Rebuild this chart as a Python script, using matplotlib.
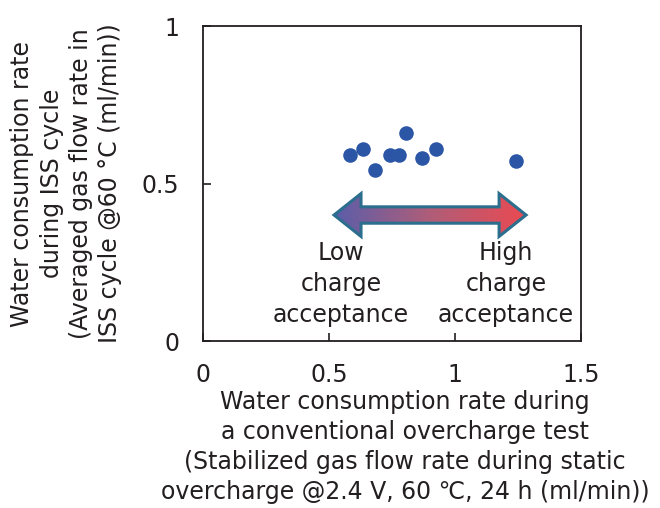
import numpy as np
import matplotlib
matplotlib.use('Agg')
import matplotlib.pyplot as plt
from matplotlib.patches import Polygon
from matplotlib.colors import LinearSegmentedColormap

plt.rcParams['font.family'] = ['DejaVu Sans', 'Noto Sans CJK JP']

# data
overcharge_rate = [0.583, 0.634, 0.683, 0.742, 0.778, 0.805, 0.869, 0.925, 1.242]
iss_rate = [0.590, 0.610, 0.544, 0.590, 0.590, 0.660, 0.580, 0.608, 0.571]
x_ticks = [0, 0.5, 1, 1.5]
x_tick_labels = ['0', '0.5', '1', '1.5']
y_ticks = [0, 0.5, 1]
y_tick_labels = ['0', '0.5', '1']

FS = 17
TXT = '#231f20'

fig = plt.figure(figsize=(6.6, 5.08), dpi=100)
ax = fig.add_axes([0.3076, 0.3287, 0.5727, 0.6201])

ax.scatter(overcharge_rate, iss_rate, s=110, color='#2b55a5', zorder=3, linewidths=0)

ax.set_xticks(x_ticks)
ax.set_xticklabels(x_tick_labels)
ax.set_yticks(y_ticks)
ax.set_yticklabels(y_tick_labels)
ax.tick_params(direction='in', length=6, width=1.2, labelsize=FS, color=TXT,
               labelcolor=TXT)
ax.tick_params(axis='x', pad=16)
ax.tick_params(axis='y', pad=17)
for sp in ax.spines.values():
    sp.set_linewidth(1.3)
    sp.set_color(TXT)

ax.set_xlabel('Water consumption rate during\na conventional overcharge test\n'
              '(Stabilized gas flow rate during static\novercharge @2.4 V, 60 ℃, 24 h (ml/min))',
              fontsize=FS, color=TXT, linespacing=1.32)
ax.xaxis.set_label_coords(0.535, -0.155)
ax.set_ylabel('Water consumption rate\nduring ISS cycle\n(Averaged gas flow rate in\n'
              'ISS cycle @60 °C (ml/min))',
              fontsize=FS, color=TXT, linespacing=1.28, labelpad=14)

# double arrow with gradient fill
x0, x1, yc = 0.52, 1.282, 0.40
hh, sh, hl = 0.068, 0.026, 0.107
pts = [(x0, yc), (x0 + hl, yc + hh), (x0 + hl, yc + sh), (x1 - hl, yc + sh),
       (x1 - hl, yc + hh), (x1, yc), (x1 - hl, yc - hh), (x1 - hl, yc - sh),
       (x0 + hl, yc - sh), (x0 + hl, yc - hh)]
arrow = Polygon(pts, closed=True, facecolor='none', edgecolor='#2b6e8e', linewidth=2.2, zorder=4)
ax.add_patch(arrow)
cmap = LinearSegmentedColormap.from_list('lh', ['#5a5eaa', '#b05d78', '#ea4a52'])
grad = np.linspace(0, 1, 256).reshape(1, -1)
im = ax.imshow(grad, cmap=cmap, extent=[x0, x1, yc - hh, yc + hh], aspect='auto', zorder=3)
im.set_clip_path(arrow)
ax.set_xlim(0, 1.5)
ax.set_ylim(0, 1)

ax.text(0.548, 0.181, 'Low\ncharge\nacceptance', ha='center', va='center', fontsize=FS,
        color=TXT, linespacing=1.35)
ax.text(1.202, 0.181, 'High\ncharge\nacceptance', ha='center', va='center', fontsize=FS,
        color=TXT, linespacing=1.35)

fig.savefig('out.png', dpi=100)
